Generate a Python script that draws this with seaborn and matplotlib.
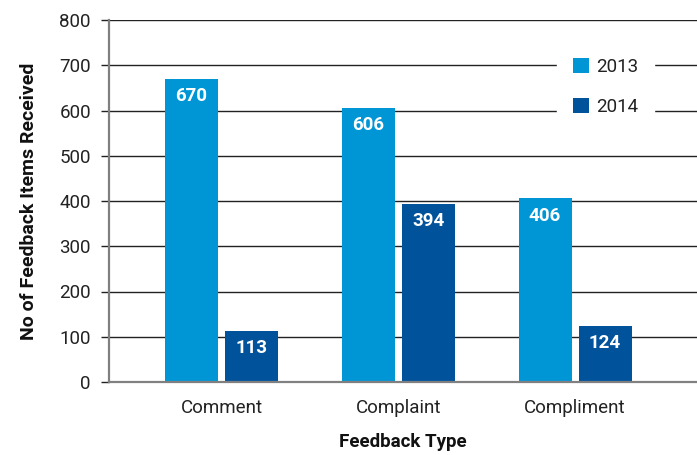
import matplotlib
matplotlib.use("Agg")
import matplotlib.pyplot as plt
import seaborn as sns
import pandas as pd

categories = ["Comment", "Complaint", "Compliment"]
years = ["2013", "2014"]
values_2013 = [670, 606, 406]
values_2014 = [113, 394, 124]
yticks = [0, 100, 200, 300, 400, 500, 600, 700, 800]
colors = ["#0096d6", "#00529b"]

df = pd.DataFrame({
    "Feedback Type": categories * 2,
    "Year": [years[0]] * 3 + [years[1]] * 3,
    "Count": values_2013 + values_2014,
})

sns.set_theme(style="white")
plt.rcParams["font.family"] = ["Roboto", "DejaVu Sans"]

fig = plt.figure(figsize=(6.97, 4.55), dpi=100)
ax = fig.add_axes([109/697, 1 - 382/455, 1 - 109/697, (382 - 20)/455])

sns.barplot(data=df, x="Feedback Type", y="Count", hue="Year",
            palette=colors, width=0.68, gap=0.118, ax=ax,
            saturation=1, legend=True, zorder=3, linewidth=0)

ax.set_xlim(-0.637, 2.69)
ax.set_ylim(0, 800)
ax.set_yticks(yticks)
ax.yaxis.grid(True, color="#222222", linewidth=1.0, zorder=0)
ax.set_axisbelow(True)
for s in ["top", "right"]:
    ax.spines[s].set_visible(False)
ax.spines["left"].set_color("#808080")
ax.spines["left"].set_linewidth(1.6)
ax.spines["bottom"].set_color("#808080")
ax.spines["bottom"].set_linewidth(1.6)
ax.spines["left"].set_zorder(4)
ax.spines["bottom"].set_zorder(4)

ax.tick_params(axis="y", length=6, width=1.0, color="#222222", pad=7,
               labelsize=13.5, labelcolor="#222222", left=True)
ax.tick_params(axis="x", length=0, pad=12, labelsize=13.5, labelcolor="#222222")

ax.set_xlabel("Feedback Type", fontsize=13.5, fontweight="bold", color="#111111", labelpad=12)
ax.set_ylabel("No of Feedback Items Received", fontsize=14, fontweight="bold",
              color="#111111", labelpad=15)

for cont in ax.containers:
    for p in cont:
        h = p.get_height()
        ax.annotate(f"{int(round(h))}", (p.get_x() + p.get_width()/2, h),
                    xytext=(0, -12.5), textcoords="offset points",
                    ha="center", va="center", color="white",
                    fontsize=13.5, fontweight="semibold", zorder=5)

handles, labels = ax.get_legend_handles_labels()
leg = ax.legend(handles, labels, loc="upper left",
                bbox_to_anchor=((557 - 109)/588, (382 - 42)/362),
                borderaxespad=0, frameon=True, fancybox=False,
                facecolor="white", edgecolor="white", framealpha=1,
                fontsize=13.5, handlelength=0.85, handleheight=0.85,
                handletextpad=0.4, labelspacing=1.2, borderpad=0.85)
for t in leg.get_texts():
    t.set_color("#222222")
leg.set_zorder(6)

fig.savefig("out.png", dpi=100)
